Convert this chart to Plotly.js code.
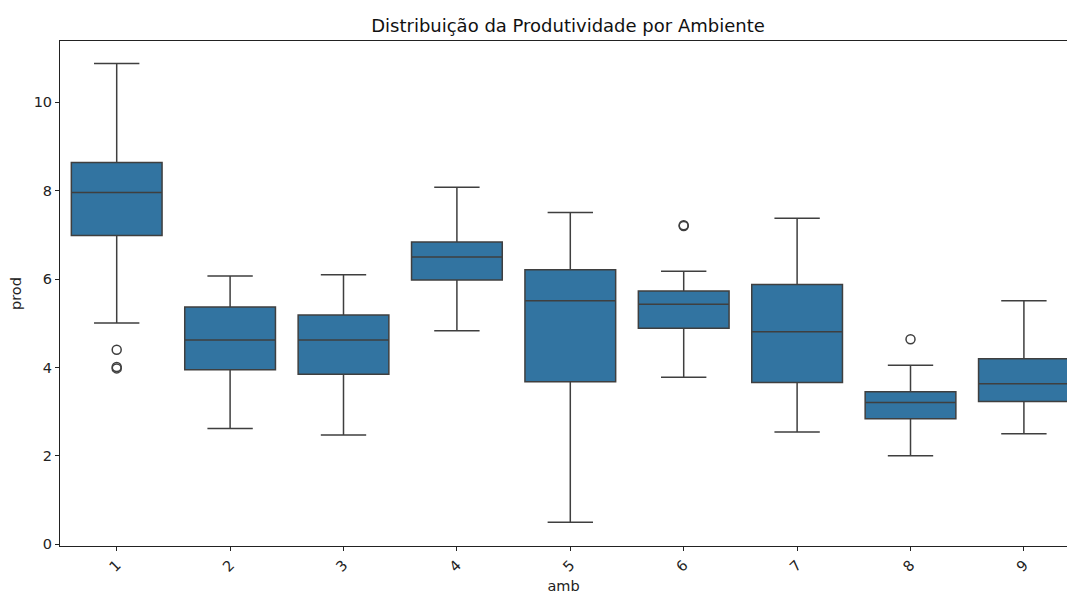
<!DOCTYPE html>
<html>
<head>
<meta charset="utf-8">
<script src="https://cdn.plot.ly/plotly-3.0.1.min.js"></script>
<style>html,body{margin:0;padding:0;background:#fff;}#chart{width:1067px;height:594px;}</style>
</head>
<body>
<div id="chart"></div>
<script>
// Data
const categories = [1, 2, 3, 4, 5, 6, 7, 8, 9];
const tickLabels = ["1", "2", "3", "4", "5", "6", "7", "8", "9"];
const lowerWhisker = [5.01, 2.62, 2.47, 4.83, 0.50, 3.78, 2.54, 2.00, 2.50];
const q1Values     = [6.99, 3.95, 3.85, 5.98, 3.68, 4.89, 3.66, 2.84, 3.23];
const medianValues = [7.96, 4.62, 4.62, 6.50, 5.51, 5.43, 4.81, 3.21, 3.63];
const q3Values     = [8.64, 5.37, 5.19, 6.84, 6.21, 5.73, 5.88, 3.45, 4.20];
const upperWhisker = [10.88, 6.07, 6.10, 8.08, 7.51, 6.18, 7.38, 4.05, 5.51];
const outlierAmb   = [1, 1, 1, 6, 6, 8];
const outlierProd  = [4.40, 4.01, 3.98, 7.20, 7.22, 4.64];

const lineCol = '#3f3f3f';
const boxTrace = {
  type: 'box',
  x: categories,
  q1: q1Values,
  median: medianValues,
  q3: q3Values,
  lowerfence: lowerWhisker,
  upperfence: upperWhisker,
  width: 0.8,
  whiskerwidth: 0.5,
  fillcolor: '#3274a1',
  line: {color: lineCol, width: 1.5},
  boxpoints: false,
  showlegend: false,
  hoverinfo: 'skip'
};
const outTrace = {
  type: 'scatter',
  mode: 'markers',
  x: outlierAmb,
  y: outlierProd,
  marker: {symbol: 'circle-open', size: 9, color: lineCol, line: {width: 1.5, color: lineCol}},
  showlegend: false,
  hoverinfo: 'skip'
};

const font = {family: 'DejaVu Sans, sans-serif', color: '#222', size: 14.5};
const layout = {
  width: 1067, height: 594,
  margin: {l: 60, r: 0, t: 41, b: 48},
  paper_bgcolor: '#fff', plot_bgcolor: '#fff',
  font: font,
  title: {text: 'Distribuição da Produtividade por Ambiente', font: {family: 'DejaVu Sans, sans-serif', size: 18, color: '#111'},
          xref: 'container', x: 568/1067, xanchor: 'center', yref: 'container', y: 1 - 26/594, yanchor: 'middle'},
  xaxis: {
    range: [0.5, 9.38], tickmode: 'array', tickvals: categories, ticktext: tickLabels,
    tickangle: -45, ticks: 'outside', ticklen: 4, tickcolor: '#222', tickwidth: 1,
    showline: true, linecolor: '#222', linewidth: 1, mirror: true,
    showgrid: false, zeroline: false,
    title: {text: 'amb', font: {size: 14.5, color: '#222'}, standoff: 8},
    fixedrange: true
  },
  yaxis: {
    range: [-0.04, 11.39], tickvals: [0, 2, 4, 6, 8, 10],
    ticks: 'outside', ticklen: 4, tickcolor: '#222', tickwidth: 1,
    showline: true, linecolor: '#222', linewidth: 1, mirror: false,
    showgrid: false, zeroline: false,
    title: {text: 'prod', font: {size: 14.5, color: '#222'}, standoff: 8},
    fixedrange: true
  },
  hovermode: false
};
Plotly.newPlot('chart', [boxTrace, outTrace], layout, {displayModeBar: false, staticPlot: true});
</script>
</body>
</html>
